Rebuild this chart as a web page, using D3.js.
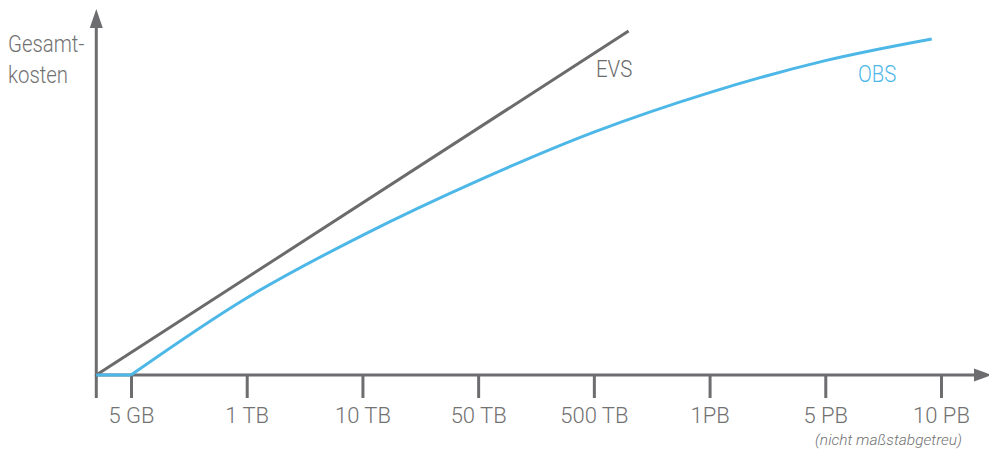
<!DOCTYPE html>
<html><head><meta charset="utf-8">
<script src="https://cdn.jsdelivr.net/npm/d3@7"></script>
<style>
html,body{margin:0;padding:0;background:#fff;}
svg{display:block;font-family:Roboto,"Liberation Sans",sans-serif;}
</style></head>
<body>
<svg id="chart" width="989" height="450"></svg>
<script>
// ---- data ----
const categories = ["5 GB","1 TB","10 TB","50 TB","500 TB","1PB","5 PB","10 PB"];
const originPos = -0.3;
const evsPos  = [-0.3, 4.3];
const evsCost = [0, 100];
const obsPos  = [-0.3, 0, 1, 2, 3, 4, 5, 6, 6.92];
const obsCost = [0, 0, 22.4, 40.6, 56.5, 70.6, 82.1, 91.4, 97.7];
const yLabel = ["Gesamt-", "kosten"];
const note = "(nicht maßstabgetreu)";

// ---- setup ----
const svg = d3.select("#chart");
const axisColor = "#6d6d70", textColor = "#727272", evsColor = "#6b6b6b", obsColor = "#4db8e8";
const squeeze = 0.85;
const x = d3.scaleLinear().domain([0, categories.length - 1]).range([131, 941]);
const y = d3.scaleLinear().domain([0, 100]).range([375, 31]);
const x0 = x(originPos), y0 = y(0);

// x axis ticks + labels
const ax = svg.append("g").attr("transform", `translate(0,${y0})`)
  .call(d3.axisBottom(x).tickValues(d3.range(categories.length)).tickSize(23).tickFormat(i => categories[i]));
ax.select(".domain").remove();
ax.selectAll(".tick line").attr("stroke", axisColor).attr("stroke-width", 3);
ax.selectAll(".tick text").attr("y", 48).attr("dy", 0)
  .attr("fill", textColor).attr("font-size", 22).attr("font-weight", 300)
  .attr("font-family", "Roboto, sans-serif");
// origin tick
svg.append("line").attr("x1", x0).attr("x2", x0).attr("y1", y0).attr("y2", y0 + 23)
  .attr("stroke", axisColor).attr("stroke-width", 3);

// axis lines with arrows
svg.append("line").attr("x1", x0).attr("x2", 976).attr("y1", y0).attr("y2", y0)
  .attr("stroke", axisColor).attr("stroke-width", 3);
svg.append("path").attr("d", `M992,${y0} L974,${y0-6.5} L974,${y0+6.5} Z`).attr("fill", axisColor);
svg.append("line").attr("x1", x0).attr("x2", x0).attr("y1", y0 + 1.5).attr("y2", 26)
  .attr("stroke", axisColor).attr("stroke-width", 3);
svg.append("path").attr("d", `M${x0},9 L${x0-6.5},28 L${x0+6.5},28 Z`).attr("fill", axisColor);

// lines
const line = d3.line().x(d => x(d[0])).y(d => y(d[1]));
const evs = d3.zip(evsPos, evsCost);
const obs = d3.zip(obsPos, obsCost);
svg.append("path").attr("d", line(evs)).attr("fill", "none").attr("stroke", evsColor).attr("stroke-width", 3);
svg.append("path").attr("d", line(obs.slice(0, 2))).attr("fill", "none").attr("stroke", obsColor).attr("stroke-width", 3);
svg.append("path").attr("d", line.curve(d3.curveCatmullRom.alpha(0.5))(obs.slice(1))).attr("fill", "none")
  .attr("stroke", obsColor).attr("stroke-width", 3).attr("stroke-linejoin", "round");

// labels
function label(txt, px, py, color, size, anchor, style, sq) {
  svg.append("text").attr("transform", `translate(${px},${py}) scale(${sq || squeeze},1)`)
    .attr("text-anchor", anchor || "start").attr("fill", color).attr("font-size", size)
    .attr("font-weight", 300).attr("font-style", style || "normal").text(txt);
}
label(yLabel[0], 8, 52, textColor, 24);
label(yLabel[1], 8, 83, textColor, 24);
label("EVS", 596, 77, evsColor, 24);
label("OBS", 858, 82, obsColor, 24);
label(note, 962, 445, textColor, 15.5, "end", "italic", 1);
</script>
</body></html>
